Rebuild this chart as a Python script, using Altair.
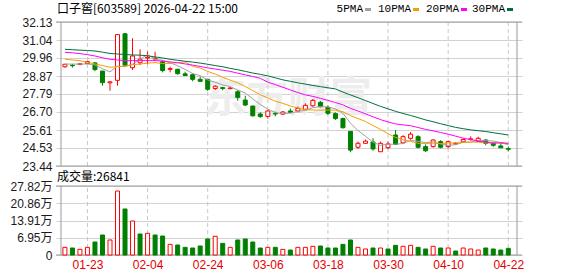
import altair as alt
import pandas as pd

# ---------------- data ----------------
dates = ["01-20","01-21","01-22","01-23","01-26","01-27","01-28","01-29","01-30",
         "02-02","02-03","02-04","02-05","02-06","02-09","02-10","02-11","02-12","02-13",
         "02-24","02-25","02-26","02-27",
         "03-02","03-03","03-04","03-05","03-06","03-09","03-10","03-11","03-12","03-13",
         "03-16","03-17","03-18","03-19","03-20","03-23","03-24","03-25","03-26","03-27",
         "03-30","03-31","04-01","04-02","04-03","04-07","04-08","04-09","04-10",
         "04-13","04-14","04-15","04-16","04-17","04-20","04-21","04-22"]

opens = [29.43,29.52,29.56,29.62,29.66,29.17,28.46,28.61,31.42,29.37,
         29.67,29.95,29.89,29.73,29.27,29.28,29.00,28.95,28.67,28.67,
         28.12,28.17,28.11,27.92,27.42,27.06,26.58,26.43,26.62,26.57,
         26.76,26.76,26.86,27.08,27.28,26.98,26.60,26.30,25.53,24.57,
         24.81,24.89,24.30,24.55,25.31,24.84,25.11,25.21,24.61,24.61,
         24.91,24.61,24.77,24.90,25.05,24.92,25.01,24.81,24.65,24.49]
highs = [29.60,29.60,29.64,29.78,29.72,29.18,28.55,31.37,31.46,31.15,
         30.48,30.34,30.34,29.84,29.43,29.30,29.13,29.03,28.83,28.67,
         28.31,28.22,28.20,28.03,27.68,27.06,26.68,26.82,26.72,26.76,
         26.91,27.02,27.22,27.48,27.36,27.10,26.68,26.36,25.55,24.91,
         25.03,25.11,24.91,24.91,25.61,25.30,25.49,25.30,24.75,25.05,
         25.00,24.98,24.88,25.10,25.23,25.21,25.05,24.90,24.87,24.61]
lows = [29.37,29.38,29.54,29.60,29.16,28.29,27.98,28.29,29.50,29.23,
        29.53,29.58,29.78,29.09,29.09,28.95,28.88,28.55,28.53,27.97,
        28.03,28.01,28.07,27.38,27.06,26.42,26.34,26.30,26.44,26.52,
        26.64,26.68,26.82,27.02,26.98,26.52,26.22,25.70,24.27,24.47,
        24.77,24.36,24.30,24.45,24.72,24.80,25.02,24.50,24.28,24.55,
        24.50,24.52,24.72,24.85,24.97,24.90,24.69,24.60,24.52,24.33]
closes = [29.58,29.49,29.61,29.74,29.26,28.47,28.52,31.37,29.52,30.08,
          29.88,30.00,29.94,29.20,29.32,29.01,28.90,28.67,28.55,28.07,
          28.25,28.12,28.15,27.58,27.12,26.47,26.43,26.76,26.58,26.70,
          26.68,26.92,27.10,27.40,27.02,26.62,26.30,25.75,24.40,24.81,
          24.94,24.47,24.81,24.77,24.74,25.21,25.36,24.57,24.36,25.01,
          24.57,24.91,24.81,25.04,25.08,25.11,24.81,24.69,24.54,24.45]
volumes = [3.09,2.82,2.28,3.09,5.24,8.06,6.05,25.80,18.55,13.70,
           8.47,8.74,8.06,7.66,4.30,4.03,3.09,2.82,3.63,6.45,
           7.53,4.70,3.09,6.05,6.45,5.24,2.82,3.09,3.09,2.28,
           2.00,3.09,3.09,3.50,3.63,2.82,2.82,4.30,6.05,3.09,
           2.42,2.82,2.82,2.42,3.90,3.50,3.90,3.09,2.42,3.50,
           2.82,2.82,1.61,2.82,2.42,2.00,2.82,2.42,2.00,2.68]

ma5 = [29.59,29.59,29.59,29.60,29.54,29.31,29.12,29.47,29.43,29.59,
       29.87,30.17,29.88,29.82,29.67,29.49,29.27,29.02,28.89,28.64,
       28.49,28.33,28.23,28.03,27.84,27.49,27.15,26.87,26.67,26.59,
       26.63,26.73,26.80,26.96,27.02,27.01,26.89,26.62,26.02,25.58,
       25.24,24.87,24.69,24.76,24.75,24.80,24.98,24.93,24.85,24.90,
       24.77,24.68,24.73,24.87,24.88,24.99,24.97,24.95,24.85,24.72]
ma10 = [29.88,29.84,29.80,29.70,29.60,29.50,29.40,29.43,29.47,29.56,
        29.59,29.65,29.68,29.62,29.63,29.68,29.72,29.45,29.36,29.15,
        28.99,28.80,28.62,28.46,28.24,27.99,27.74,27.55,27.35,27.22,
        27.06,26.94,26.83,26.82,26.81,26.82,26.81,26.71,26.49,26.30,
        26.13,25.88,25.65,25.39,25.16,25.02,24.93,24.81,24.80,24.82,
        24.79,24.83,24.83,24.86,24.89,24.88,24.83,24.84,24.86,24.80]
ma20 = [30.30,30.27,30.22,30.16,30.08,29.97,29.88,29.84,29.80,29.80,
        29.80,29.80,29.80,29.77,29.72,29.67,29.60,29.53,29.45,29.36,
        29.29,29.22,29.15,29.04,28.94,28.84,28.73,28.50,28.35,28.19,
        28.03,27.87,27.73,27.64,27.52,27.40,27.27,27.13,26.92,26.76,
        26.59,26.41,26.24,26.10,25.98,25.92,25.87,25.76,25.65,25.56,
        25.46,25.36,25.24,25.12,25.03,24.95,24.88,24.82,24.83,24.81]
ma30 = [30.48,30.46,30.43,30.41,30.38,30.31,30.23,30.20,30.17,30.14,
        30.13,30.09,30.02,29.96,29.88,29.82,29.76,29.71,29.65,29.58,
        29.50,29.43,29.33,29.25,29.15,29.05,28.97,28.88,28.76,28.64,
        28.55,28.46,28.38,28.30,28.23,28.16,28.09,27.90,27.73,27.56,
        27.39,27.21,27.04,26.89,26.74,26.61,26.49,26.36,26.22,26.11,
        25.99,25.88,25.77,25.69,25.62,25.57,25.52,25.45,25.38,25.31]

price_ticks = [23.44, 24.53, 25.61, 26.70, 27.79, 28.87, 29.96, 31.04, 32.13]
vol_ticks = [0, 6.95, 13.91, 20.86, 27.82]
label_dates = ["01-23", "02-04", "02-24", "03-06", "03-18", "03-30", "04-10", "04-22"]
legend_names = ["5PMA", "10PMA", "20PMA", "30PMA"]
ma_colors = ["#a0a0a0", "#f2a000", "#ff00ff", "#00703a"]
title_text = "口子窖[603589] 2026-04-22 15:00"
vol_title = "成交量:26841"
watermark = "东方财富"

# ---------------- layout constants ----------------
W, H = 466, 233          # plot area (both panels)
PH = 144                 # price panel height
VT = 164                 # volume panel top
X_DOM = [-0.52, 60.16]
RED, GREEN = "#ff0000", "#008000"
GRID = "#d2d2d2"
FRAME = "#9a9a9a"
NUM_FONT = "Liberation Sans, Noto Sans CJK SC"
CJK_FONT = "Noto Sans CJK SC"

n = len(dates)
df = pd.DataFrame({"i": list(range(n)), "date": dates, "open": opens, "high": highs,
                   "low": lows, "close": closes, "vol": volumes})
df["top"] = df[["open", "close"]].max(axis=1)
df["bot"] = df[["open", "close"]].min(axis=1)
df["up"] = df["close"] > df["open"]
prev = df["close"].shift(1)
df["vup"] = (df["close"] >= prev) | prev.isna()
df["v0"] = 0.0

ma_long = pd.concat([pd.DataFrame({"i": list(range(n)), "val": vals, "ma": name})
                     for name, vals in zip(legend_names, [ma5, ma10, ma20, ma30])])

label_idx = [dates.index(d) for d in label_dates]
gl = pd.DataFrame({"i": label_idx, "p0": price_ticks[0], "p1": price_ticks[-1],
                   "v0": vol_ticks[0], "v1": vol_ticks[-1]})
sides = pd.DataFrame({"i": X_DOM, "p0": price_ticks[0], "p1": price_ticks[-1],
                      "v0": vol_ticks[0], "v1": vol_ticks[-1]})
p_edges = pd.DataFrame({"p": [price_ticks[0], price_ticks[-1]]})
v_edges = pd.DataFrame({"v": [vol_ticks[0], vol_ticks[-1]]})

xs = alt.Scale(domain=X_DOM, nice=False, zero=False)
ps = alt.Scale(domain=[price_ticks[0], price_ticks[-1]], range=[PH, 0], nice=False, zero=False)
vs = alt.Scale(domain=[vol_ticks[0], vol_ticks[-1]], range=[H, VT], nice=False, zero=False)

# identical axis definitions used by every layer that shares the scale
XAX = alt.Axis(values=label_idx, orient="bottom",
               labelExpr="[" + ",".join("'%s'" % d for d in dates) + "][datum.value]",
               grid=False, ticks=False, domain=False, labelColor="#e60000",
               labelFont=NUM_FONT, labelFontSize=12, labelPadding=4, labelOverlap=False,
               title=None)
PAX = alt.Axis(values=price_ticks, format=".2f", orient="left", grid=True, gridColor=GRID,
               ticks=False, domain=False, labelPadding=4, labelColor="#1a1a1a",
               labelFont=NUM_FONT, labelFontSize=12, labelOverlap=False, title=None)
VAX = alt.Axis(values=vol_ticks, orient="left", grid=True, gridColor=GRID, ticks=False,
               domain=False, labelPadding=4,
               labelExpr="datum.value == 0 ? '0' : format(datum.value, '.2f') + '万'",
               labelColor="#1a1a1a", labelFont=NUM_FONT, labelFontSize=12,
               labelOverlap=False, title=None)

def X(field="i:Q"):
    return alt.X(field, scale=xs, axis=XAX)

def PY(field):
    return alt.Y(field, scale=ps, axis=PAX)

def VY(field):
    return alt.Y(field, scale=vs, axis=VAX)

# ---------------- price panel ----------------
wm = alt.Chart(pd.DataFrame({"t": [watermark]})).mark_text(
    font=CJK_FONT, fontSize=42, fontWeight="bold", color="#ededed", align="center",
    baseline="alphabetic").encode(x=alt.value(232), y=alt.value(90), text="t:N")

p_vgrid = alt.Chart(gl).mark_rule(color="#c8c8c8", strokeDash=[4, 3], strokeWidth=1).encode(
    x=X(), y=PY("p0:Q"), y2="p1:Q")
p_hframe = alt.Chart(p_edges).mark_rule(color=FRAME, strokeWidth=1).encode(y=PY("p:Q"))
p_vframe = alt.Chart(sides).mark_rule(color=FRAME, strokeWidth=1).encode(
    x=X(), y=PY("p0:Q"), y2="p1:Q")

def wick_layer(sub, color):
    upper = alt.Chart(sub).mark_rule(color=color, strokeWidth=1).encode(
        x=X(), y=PY("high:Q"), y2="top:Q")
    lower = alt.Chart(sub).mark_rule(color=color, strokeWidth=1).encode(
        x=X(), y=PY("bot:Q"), y2="low:Q")
    return upper + lower

up_c = df[df["up"]]
dn_c = df[~df["up"]]
wicks = wick_layer(up_c, RED) + wick_layer(dn_c, GREEN)

body_up = alt.Chart(up_c).mark_bar(size=4, fill="#ffffff", stroke=RED, strokeWidth=1).encode(
    x=X(), y=PY("bot:Q"), y2="top:Q")
body_dn = alt.Chart(dn_c).mark_bar(size=4, fill=GREEN, stroke=GREEN, strokeWidth=1).encode(
    x=X(), y=PY("bot:Q"), y2="top:Q")

lines = alt.Chart(ma_long).mark_line(strokeWidth=1, interpolate="linear").encode(
    x=X(), y=PY("val:Q"),
    color=alt.Color("ma:N", scale=alt.Scale(domain=legend_names, range=ma_colors), legend=None),
    detail="ma:N")

title_mark = alt.Chart(pd.DataFrame({"t": [title_text]})).mark_text(
    font=CJK_FONT, fontSize=12, align="left", baseline="alphabetic", color="#000000").encode(
    x=alt.value(1), y=alt.value(-9), text="t:N")

# legend: label, then small coloured bar
sq_x = [309, 357, 405, 451]
leg = pd.DataFrame({"name": legend_names, "color": ma_colors,
                    "tx": [s - 2 for s in sq_x], "sx": sq_x, "sx2": [s + 6 for s in sq_x]})
leg_text = alt.Chart(leg).mark_text(font="Liberation Mono", fontSize=11, align="right",
                                    baseline="alphabetic", color="#000000").encode(
    x=alt.X("tx:Q", scale=None), y=alt.value(-10), text="name:N")
leg_sq = alt.Chart(leg).mark_rect().encode(
    x=alt.X("sx:Q", scale=None), x2="sx2:Q", y=alt.value(-14), y2=alt.value(-11),
    color=alt.Color("color:N", scale=None))

price = alt.layer(wm, p_vgrid, p_hframe, p_vframe, wicks, body_up, body_dn, lines,
                  title_mark, leg_text, leg_sq)

# ---------------- volume panel ----------------
v_vgrid = alt.Chart(gl).mark_rule(color="#c8c8c8", strokeDash=[4, 3], strokeWidth=1).encode(
    x=X(), y=VY("v0:Q"), y2="v1:Q")
v_hframe = alt.Chart(v_edges).mark_rule(color=FRAME, strokeWidth=1).encode(y=VY("v:Q"))
v_vframe = alt.Chart(sides).mark_rule(color=FRAME, strokeWidth=1).encode(
    x=X(), y=VY("v0:Q"), y2="v1:Q")

vol_up = alt.Chart(df[df["vup"]]).mark_bar(size=4, fill="#ffffff", stroke=RED, strokeWidth=1).encode(
    x=X(), y=VY("v0:Q"), y2="vol:Q")
vol_dn = alt.Chart(df[~df["vup"]]).mark_bar(size=4, fill=GREEN, stroke=GREEN, strokeWidth=1).encode(
    x=X(), y=VY("v0:Q"), y2="vol:Q")

vol_title_mark = alt.Chart(pd.DataFrame({"t": [vol_title]})).mark_text(
    font=CJK_FONT, fontSize=12, align="left", baseline="alphabetic", color="#000000").encode(
    x=alt.value(1), y=alt.value(159), text="t:N")

volume = alt.layer(v_vgrid, v_hframe, v_vframe, vol_up, vol_dn, vol_title_mark)

chart = alt.layer(price, volume).resolve_scale(y="independent").properties(
    width=W, height=H,
    autosize=alt.AutoSizeParams(type="none"),
    padding={"left": 56, "top": 22, "right": 56, "bottom": 21},
    background="#ffffff",
).configure_view(stroke=None)

chart.save("out.html", embed_options={"renderer": "svg", "actions": False})
